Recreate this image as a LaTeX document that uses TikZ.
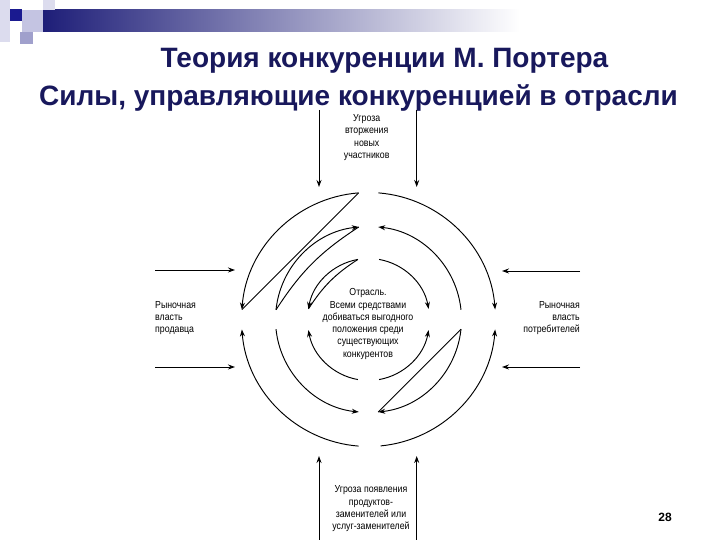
\documentclass[tikz,border=0pt]{standalone}
\usepackage{fontspec}
\setmainfont{Liberation Sans}
\newfontfamily\labfont[FakeStretch=0.86]{Liberation Sans}
\usetikzlibrary{arrows.meta}
\definecolor{navy}{RGB}{24,24,92}
\definecolor{barnavy}{RGB}{30,30,120}
\definecolor{sqdark}{RGB}{26,26,144}
\definecolor{sqlav}{RGB}{196,196,226}
\definecolor{sqpale}{RGB}{220,220,238}
\definecolor{sqmid}{RGB}{160,160,204}
\newcommand\rarc[4]{\draw[#1] ([shift={(#3:#2)}]C) arc[start angle=#3,end angle=#4,radius=#2];}
\begin{document}
\begin{tikzpicture}[x=1pt,y=1pt,
  ln/.style={line width=0.95pt},
  arr/.style={ln,-{Stealth[length=7pt,width=5pt]}},
  lab/.style={font=\labfont\fontsize{10.2}{12.3}\selectfont, align=center, inner sep=0pt},
  ttl/.style={font=\bfseries\fontsize{28}{30}\selectfont, text=navy, anchor=base, inner sep=0pt}
]
\useasboundingbox (0,0) rectangle (720,540);
\fill[white] (0,0) rectangle (720,540);
% decoration
\shade[left color=barnavy, right color=white] (43,508) rectangle (520,530);
\fill[sqpale] (0,498) rectangle (10,540);
\fill[sqdark] (10,519) rectangle (22,531);
\fill[sqlav] (22,508) rectangle (43,530);
\fill[sqpale] (43,530) rectangle (55,540);
\fill[sqmid] (20,496) rectangle (33,508);
% titles
\node[ttl] (t1) at (384.5,472) {Теория конкуренции М. Портера};
\node[ttl] (t2) at (358.5,434) {Силы, управляющие конкуренцией в отрасли};
% center
\coordinate (C) at (368.5,220.5);
% outer ring
\rarc{arr}{127}{94.5}{175.5}
\rarc{arr}{127}{85.5}{4.5}
\rarc{arr}{127}{275.5}{355.5}
\rarc{arr}{127}{265.5}{184.5}
\draw[ln] ([shift={(175.5:127)}]C) -- ([shift={(94.5:127)}]C);
% middle ring
\rarc{arr}{93}{174}{96}
\rarc{arr}{93}{6}{84}
\rarc{arr}{93}{354}{276}
\rarc{arr}{93}{186}{264}
\draw[ln] ([shift={(174:93)}]C) to[bend left=12] ([shift={(96:93)}]C);
\draw[ln] ([shift={(354:93)}]C) -- ([shift={(276:93)}]C);
% inner ring
\rarc{arr}{61}{100}{170}
\rarc{arr}{61}{80}{10}
\rarc{arr}{61}{280}{350}
\rarc{arr}{61}{260}{190}
\draw[ln] ([shift={(170:61)}]C) to[bend left=12] ([shift={(100:61)}]C);
% labels
\node[lab] (top) at (366.7,402.5) {Угроза\\вторжения\\новых\\участников};
\node[lab] (bot) at (371,31) {Угроза появления\\продуктов-\\заменителей или\\услуг-заменителей};
\node[lab, align=left, anchor=west] (lft) at (155,222) {Рыночная\\власть\\продавца};
\node[lab, align=right, anchor=east] (rgt) at (580,222) {Рыночная\\власть\\потребителей};
\node[lab] (mid) at (368,216) {Отрасль.\\Всеми средствами\\добиваться выгодного\\положения среди\\существующих\\конкурентов};
% external arrows
\coordinate (ta1) at (319,430); \coordinate (tb1) at (319,353);
\coordinate (ta2) at (416.7,430); \coordinate (tb2) at (416.7,353);
\coordinate (ba1) at (319,0); \coordinate (bb1) at (319,84);
\coordinate (ba2) at (416.7,0); \coordinate (bb2) at (416.7,84);
\coordinate (la1) at (155,270); \coordinate (lb1) at (235,270);
\coordinate (la2) at (155,173); \coordinate (lb2) at (235,173);
\coordinate (ra1) at (580,269); \coordinate (rb1) at (502,269);
\coordinate (ra2) at (580,173); \coordinate (rb2) at (502,173);
\draw[arr] (ta1) -- (tb1);
\draw[arr] (ta2) -- (tb2);
\draw[arr] (ba1) -- (bb1);
\draw[arr] (ba2) -- (bb2);
\draw[arr] (la1) -- (lb1);
\draw[arr] (la2) -- (lb2);
\draw[arr] (ra1) -- (rb1);
\draw[arr] (ra2) -- (rb2);
% page number
\node[font=\bfseries\fontsize{12}{14}\selectfont, inner sep=0pt] (pg) at (665,23) {28};
\end{tikzpicture}
\end{document}
